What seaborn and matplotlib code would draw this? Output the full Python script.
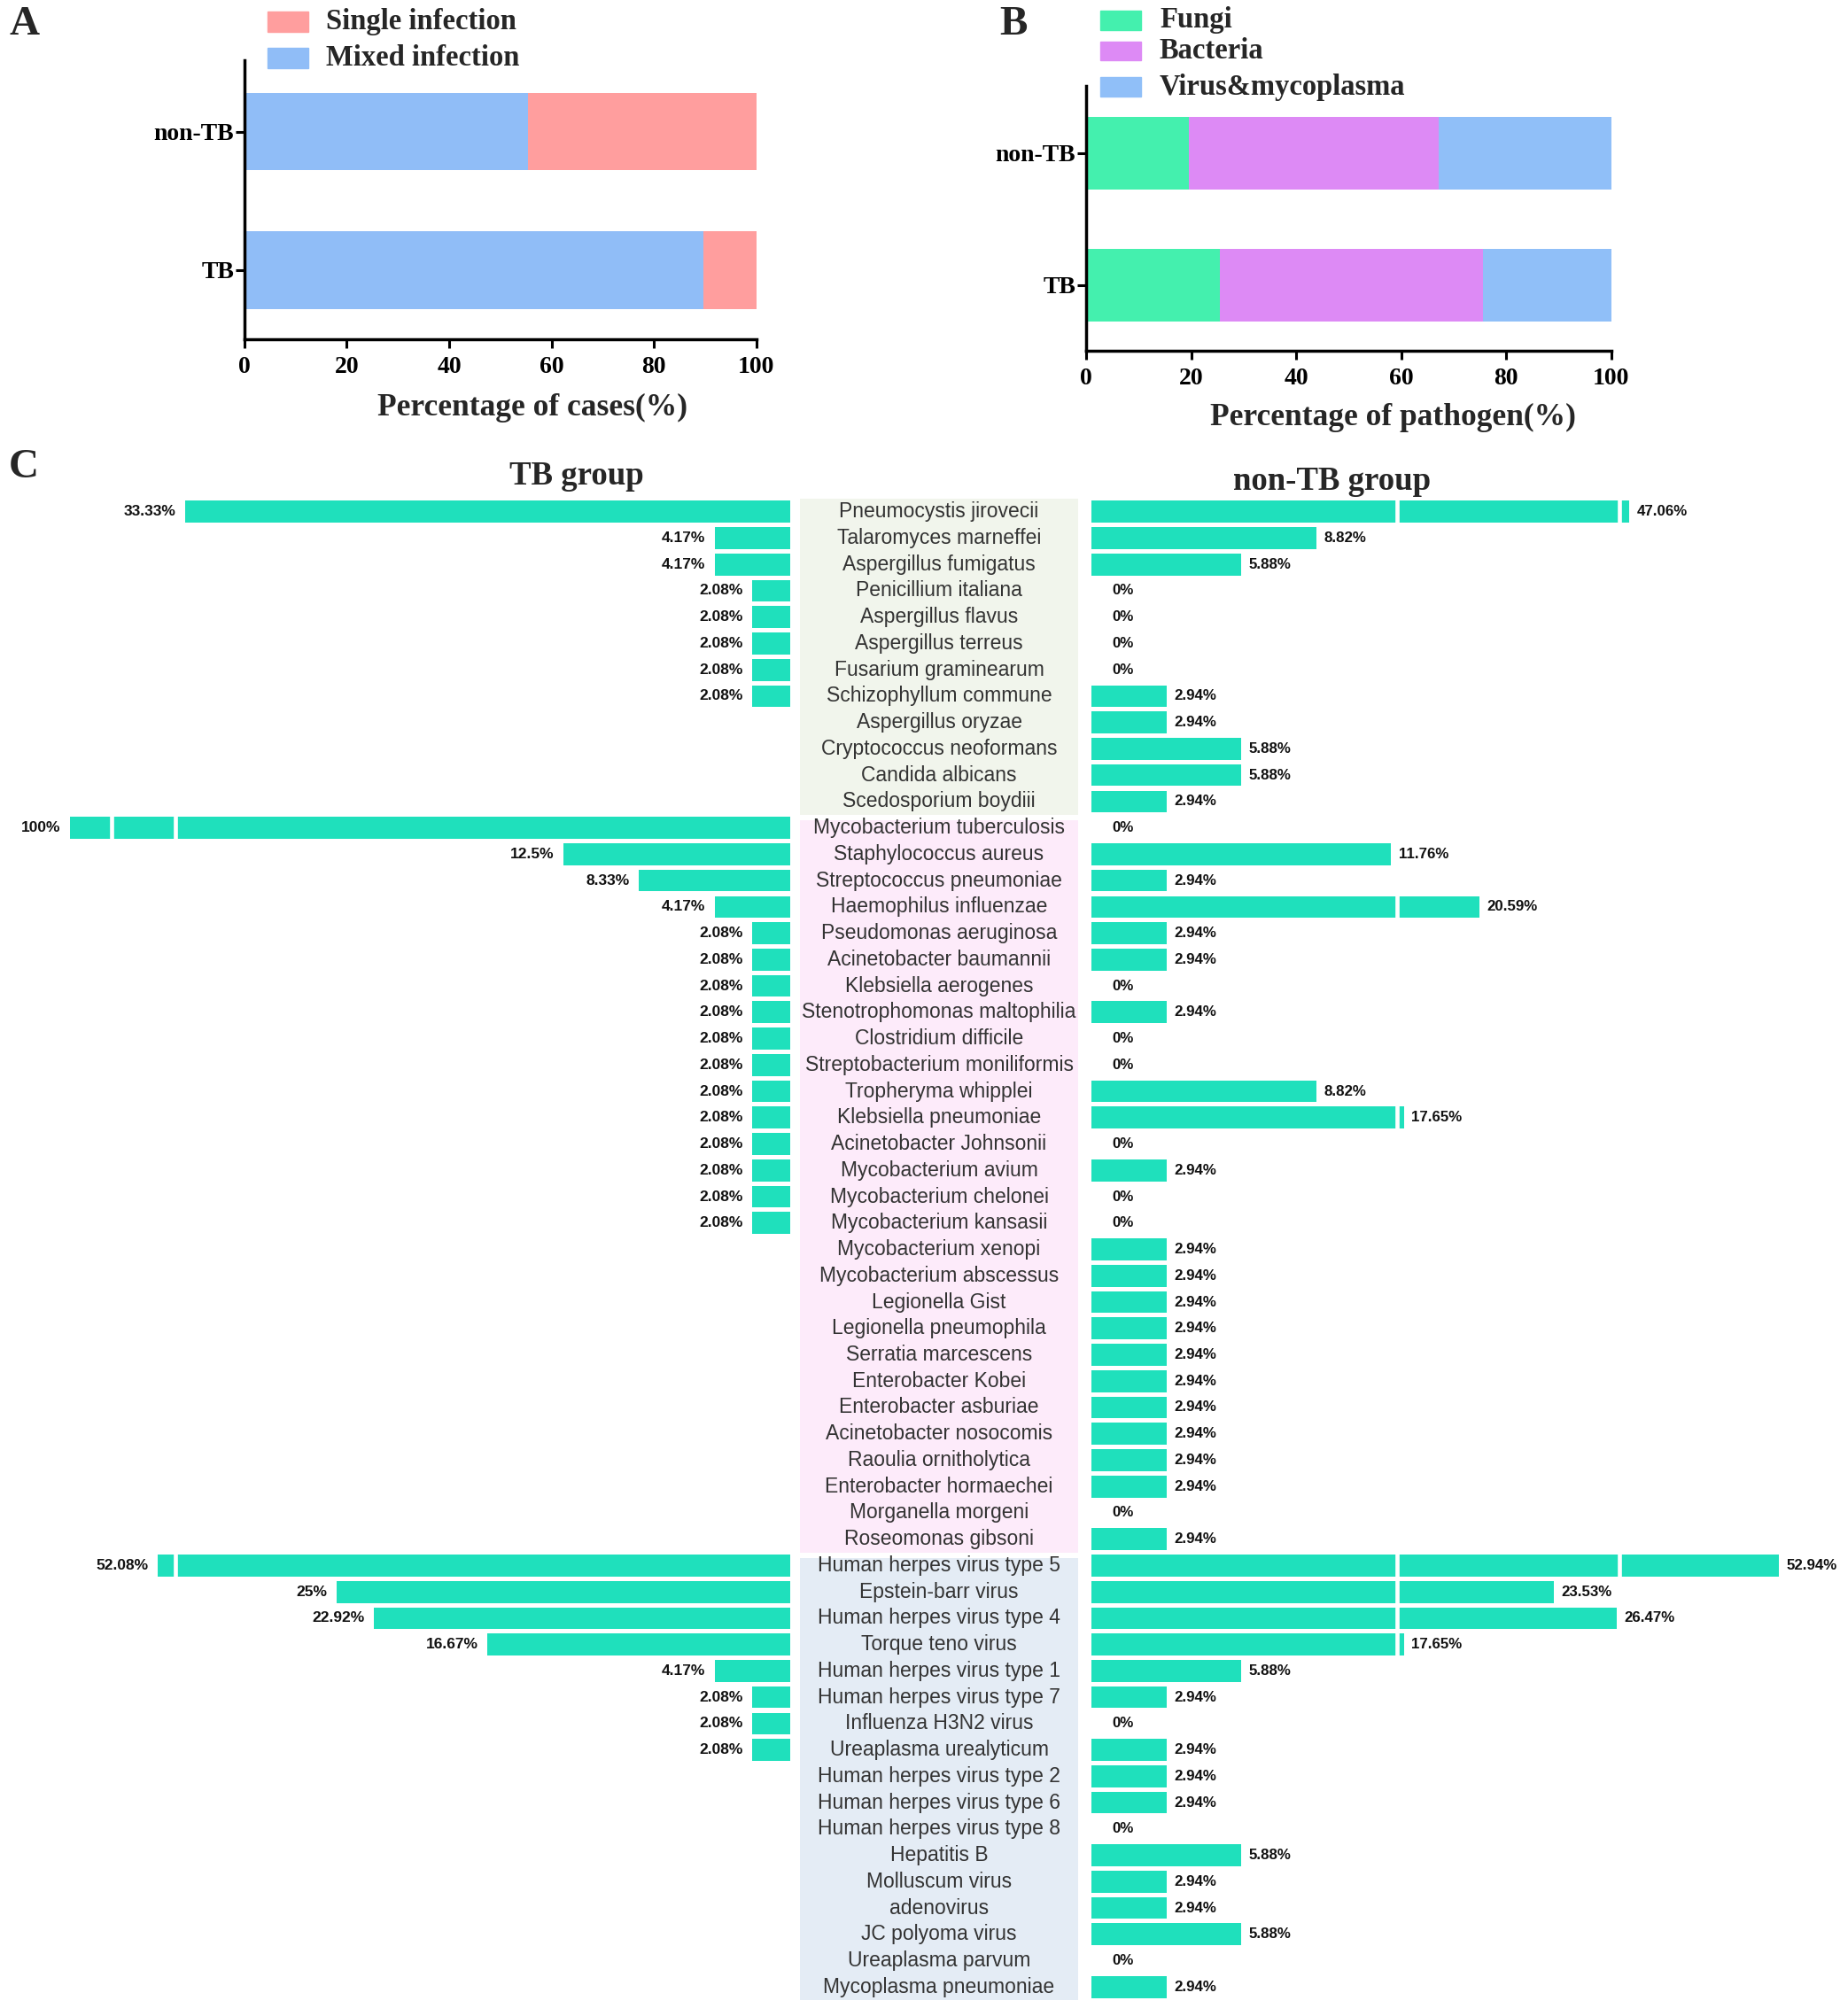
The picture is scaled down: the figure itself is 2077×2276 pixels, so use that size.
import numpy as np
import pandas as pd
import seaborn as sns
import matplotlib.pyplot as plt
from matplotlib.patches import Rectangle

# ---------------- data ----------------
# panel A: share of cases (%)
ab_groups = ['non-TB', 'TB']
single_infection = [44.6, 10.4]
mixed_infection = [55.4, 89.6]

# panel B: share of pathogens (%)
fungi_share = [19.5, 25.5]
bacteria_share = [47.7, 50.1]
virus_share = [32.8, 24.4]

# panel C: detection rate (%) in each group
fungi_names = ['Pneumocystis jirovecii', 'Talaromyces marneffei', 'Aspergillus fumigatus',
               'Penicillium italiana', 'Aspergillus flavus', 'Aspergillus terreus',
               'Fusarium graminearum', 'Schizophyllum commune', 'Aspergillus oryzae',
               'Cryptococcus neoformans', 'Candida albicans', 'Scedosporium boydiii']
fungi_tb = [33.33, 4.17, 4.17, 2.08, 2.08, 2.08, 2.08, 2.08, 0, 0, 0, 0]
fungi_nontb = [47.06, 8.82, 5.88, 0, 0, 0, 0, 2.94, 2.94, 5.88, 5.88, 2.94]

bacteria_names = ['Mycobacterium tuberculosis', 'Staphylococcus aureus', 'Streptococcus pneumoniae',
                  'Haemophilus influenzae', 'Pseudomonas aeruginosa', 'Acinetobacter baumannii',
                  'Klebsiella aerogenes', 'Stenotrophomonas maltophilia', 'Clostridium difficile',
                  'Streptobacterium moniliformis', 'Tropheryma whipplei', 'Klebsiella pneumoniae',
                  'Acinetobacter Johnsonii', 'Mycobacterium avium', 'Mycobacterium chelonei',
                  'Mycobacterium kansasii', 'Mycobacterium xenopi', 'Mycobacterium abscessus',
                  'Legionella Gist', 'Legionella pneumophila', 'Serratia marcescens',
                  'Enterobacter Kobei', 'Enterobacter asburiae', 'Acinetobacter nosocomis',
                  'Raoulia ornitholytica', 'Enterobacter hormaechei', 'Morganella morgeni',
                  'Roseomonas gibsoni']
bacteria_tb = [100, 12.5, 8.33, 4.17, 2.08, 2.08, 2.08, 2.08, 2.08, 2.08, 2.08, 2.08,
               2.08, 2.08, 2.08, 2.08, 0, 0, 0, 0, 0, 0, 0, 0, 0, 0, 0, 0]
bacteria_nontb = [0, 11.76, 2.94, 20.59, 2.94, 2.94, 0, 2.94, 0, 0, 8.82, 17.65,
                  0, 2.94, 0, 0, 2.94, 2.94, 2.94, 2.94, 2.94, 2.94, 2.94, 2.94,
                  2.94, 2.94, 0, 2.94]

virus_names = ['Human herpes virus type 5', 'Epstein-barr virus', 'Human herpes virus type 4',
               'Torque teno virus', 'Human herpes virus type 1', 'Human herpes virus type 7',
               'Influenza H3N2 virus', 'Ureaplasma urealyticum', 'Human herpes virus type 2',
               'Human herpes virus type 6', 'Human herpes virus type 8', 'Hepatitis B',
               'Molluscum virus', 'adenovirus', 'JC polyoma virus', 'Ureaplasma parvum',
               'Mycoplasma pneumoniae']
virus_tb = [52.08, 25, 22.92, 16.67, 4.17, 2.08, 2.08, 2.08, 0, 0, 0, 0, 0, 0, 0, 0, 0]
virus_nontb = [52.94, 23.53, 26.47, 17.65, 5.88, 2.94, 0, 2.94, 2.94, 2.94, 0, 5.88,
               2.94, 2.94, 5.88, 0, 2.94]

pathogens = pd.DataFrame({
    'name': fungi_names + bacteria_names + virus_names,
    'TB': fungi_tb + bacteria_tb + virus_tb,
    'non-TB': fungi_nontb + bacteria_nontb + virus_nontb,
    'kind': ['Fungi'] * len(fungi_names) + ['Bacteria'] * len(bacteria_names)
            + ['Virus'] * len(virus_names),
})

# ---------------- style ----------------
sns.set_style('white')
plt.rcParams['font.family'] = ['Liberation Serif', 'DejaVu Serif']
plt.rcParams['font.weight'] = 'bold'
SANS = ['Liberation Sans', 'DejaVu Sans']

single_color = '#FF9E9E'
mixed_color = '#90BDF7'
fungi_color = '#44F0AE'
bacteria_color = '#DD8AF5'
virus_color = '#90BFF8'
bar_color = '#1FE0BC'
kind_bg = {'Fungi': '#F1F5EC', 'Bacteria': '#FDEBFA', 'Virus': '#E4ECF5'}

# layout is measured on a 1434 x 1572 grid
W, H = 1434.4, 1571.8


def box(x0, y0, x1, y1):
    return [x0 / W, 1 - y1 / H, (x1 - x0) / W, (y1 - y0) / H]


def fxy(x, y):
    return x / W, 1 - y / H


fig = plt.figure(figsize=(20.77, 22.76), dpi=100)


def style_stacked(ax, xlabel, label_x, label_y):
    sns.despine(ax=ax)
    ax.set_xlim(0, 100)
    ax.set_xticks(range(0, 101, 20))
    for side in ['left', 'bottom']:
        ax.spines[side].set_linewidth(2.5)
        ax.spines[side].set_color('black')
    ax.tick_params(axis='x', direction='out', length=7, width=2.2, pad=7,
                   labelsize=20, colors='black', bottom=True)
    ax.tick_params(axis='y', direction='out', length=7, width=2.2, pad=1.5,
                   labelsize=20, colors='black', left=True)
    ax.set_ylabel('')
    ax.set_xlabel(xlabel, fontsize=25.5, fontweight='bold', va='center')
    ax.xaxis.set_label_coords(label_x, label_y)


# ---------------- panel A ----------------
ax_a = fig.add_axes(box(190.5, 47, 589.7, 264.3))
totals_a = [s + m for s, m in zip(single_infection, mixed_infection)]
sns.barplot(x=totals_a, y=ab_groups, color=single_color, saturation=1, width=0.558,
            linewidth=0, errorbar=None, ax=ax_a)
sns.barplot(x=mixed_infection, y=ab_groups, color=mixed_color, saturation=1, width=0.558,
            linewidth=0, errorbar=None, ax=ax_a)
ax_a.set_ylim(1.497, -0.515)
style_stacked(ax_a, 'Percentage of cases(%)', 0.562, -0.246)

for (label, col, yc) in [('Single infection', single_color, 17), ('Mixed infection', mixed_color, 45)]:
    fig.add_artist(Rectangle(fxy(208.5, yc + 8), 31.5 / W, 16 / H, color=col,
                             transform=fig.transFigure))
    fig.text(*fxy(254, yc), label, fontsize=23.5, ha='left', va='center')

# ---------------- panel B ----------------
ax_b = fig.add_axes(box(846.8, 66.8, 1255.9, 273.5))
fb = [f + b for f, b in zip(fungi_share, bacteria_share)]
fbv = [s + v for s, v in zip(fb, virus_share)]
sns.barplot(x=fbv, y=ab_groups, color=virus_color, saturation=1, width=0.552,
            linewidth=0, errorbar=None, ax=ax_b)
sns.barplot(x=fb, y=ab_groups, color=bacteria_color, saturation=1, width=0.552,
            linewidth=0, errorbar=None, ax=ax_b)
sns.barplot(x=fungi_share, y=ab_groups, color=fungi_color, saturation=1, width=0.552,
            linewidth=0, errorbar=None, ax=ax_b)
ax_b.set_ylim(1.499, -0.512)
style_stacked(ax_b, 'Percentage of pathogen(%)', 0.585, -0.2525)

for (label, col, yc) in [('Fungi', fungi_color, 15.7), ('Bacteria', bacteria_color, 39.8),
                         ('Virus&mycoplasma', virus_color, 67.9)]:
    fig.add_artist(Rectangle(fxy(857.7, yc + 7.5), 31.8 / W, 15 / H, color=col,
                             transform=fig.transFigure))
    fig.text(*fxy(904, yc), label, fontsize=23.5, ha='left', va='center')

# ---------------- panel C ----------------
def broken_scale(segments, px_per_pct, gap_px):
    vals, pos = [-100.0], [-100.0 * px_per_pct]
    p = 0.0
    for k, (lo, hi) in enumerate(segments):
        if k:
            p += gap_px
        vals += [lo, hi]
        pos += [p, p + (hi - lo) * px_per_pct]
        p = pos[-1]
    vals, pos = np.array(vals), np.array(pos)
    cuts = [(segments[k][1] + segments[k + 1][0]) / 2 for k in range(len(segments) - 1)]
    return (lambda x: np.interp(x, vals, pos)), (lambda y: np.interp(y, pos, vals)), cuts


fwd_l, inv_l, cuts_l = broken_scale([(0, 33.75), (51.2, 54.53), (97.82, 300)], 14.15, 3)
fwd_r, inv_r, cuts_r = broken_scale([(0, 11.9), (17.45, 26.0), (46.75, 300)], 19.85, 3.5)

row_top, row_bottom = 388.7, 1559.5
n = len(pathogens)
ax_l = fig.add_axes(box(0, row_top, 616, row_bottom))
ax_m = fig.add_axes(box(623.6, row_top, 840.5, row_bottom))
ax_r = fig.add_axes(box(851, row_top, W, row_bottom))

gap_lw = 3.2 * (2077 / W) * 0.72

for ax, col, fwd, inv, cuts, span in [(ax_l, 'TB', fwd_l, inv_l, cuts_l, 616),
                                      (ax_r, 'non-TB', fwd_r, inv_r, cuts_r, W - 851)]:
    sns.barplot(data=pathogens, x=col, y='name', color=bar_color, saturation=1,
                width=0.83, linewidth=0, errorbar=None, orient='h', ax=ax)
    ax.set_xscale('function', functions=(fwd, inv))
    if col == 'TB':
        ax.set_xlim(float(inv(span)), 0)
    else:
        ax.set_xlim(0, float(inv(span)))
    ax.set_ylim(n - 0.5, -0.5)
    ax.axis('off')
    for c in cuts:
        ax.axvline(c, color='white', lw=gap_lw, zorder=3)

for i, row in pathogens.iterrows():
    if row['TB'] > 0:
        ax_l.annotate(f"{row['TB']:g}%", xy=(row['TB'], i), xytext=(-7.5, 0),
                      textcoords='offset points', ha='right', va='center',
                      fontsize=12.5, family=SANS, fontweight='bold', color='#111111', zorder=5)
    off = 6 if row['non-TB'] > 0 else 16.5
    ax_r.annotate(f"{row['non-TB']:g}%", xy=(row['non-TB'], i), xytext=(off, 0),
                  textcoords='offset points', ha='left', va='center',
                  fontsize=12.2, family=SANS, fontweight='bold', color='#111111', zorder=5)

# label column with class backgrounds
ax_m.set_xlim(0, 1)
ax_m.set_ylim(n - 0.5, -0.5)
ax_m.axis('off')
kinds = pathogens['kind'].tolist()
start = 0
for k in range(1, n + 1):
    if k == n or kinds[k] != kinds[start]:
        lo = start - 0.5 + (0.22 if start > 0 else 0)
        ax_m.axhspan(lo, k - 0.5, color=kind_bg[kinds[start]], lw=0)
        start = k
for i, name in enumerate(pathogens['name']):
    ax_m.text(0.5, i, name, ha='center', va='center', fontsize=16.5,
              family=SANS, fontweight='normal', color='#333333')

# titles and panel letters
fig.text(*fxy(449.7, 378), 'TB group', fontsize=26.5, ha='center', va='baseline')
fig.text(*fxy(1038.7, 382), 'non-TB group', fontsize=26.5, ha='center', va='baseline')
for letter, x, y in [('A', 19, 19), ('B', 790, 19), ('C', 18.5, 364.5)]:
    fig.text(*fxy(x, y), letter, fontsize=34, ha='center', va='center')

fig.savefig('out.png', dpi=100)
